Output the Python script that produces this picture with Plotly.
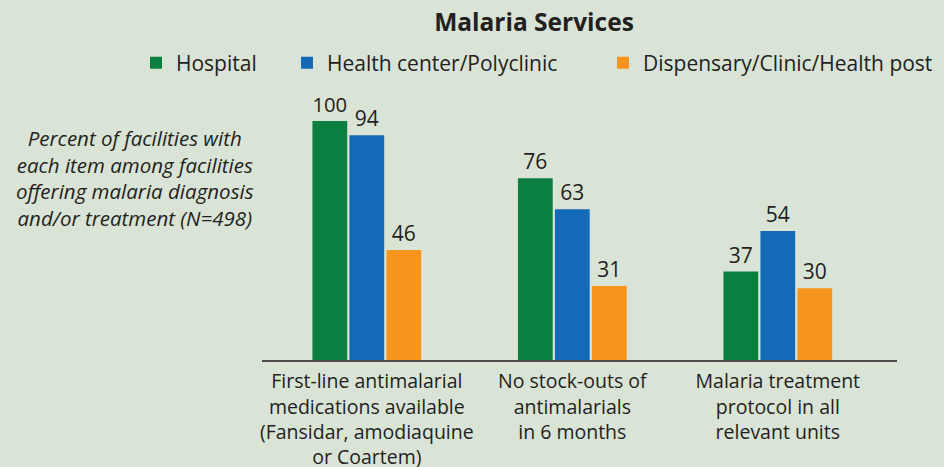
import plotly.graph_objects as go

categories = [
    "First-line antimalarial<br>medications available<br>(Fansidar, amodiaquine<br>or Coartem)",
    "No stock-outs of<br>antimalarials<br>in 6 months",
    "Malaria treatment<br>protocol in all<br>relevant units",
]
series_names = ["Hospital", "Health center/Polyclinic", "Dispensary/Clinic/Health post"]
hospital = [100, 76, 37]
health_center = [94, 63, 54]
dispensary = [46, 31, 30]
colors = ["#0b7f40", "#136ab6", "#f7941e"]
legend_ids = ["legend", "legend2", "legend3"]
legend_left_px = [136, 287, 603]

FONT = "Open Sans"
TXT = "#231f20"
L, R, T, B = 262, 47, 97, 107
PH = 467 - T - B
PW = 944 - L - R

fig = go.Figure()
for name, vals, col, lg in zip(series_names, [hospital, health_center, dispensary], colors, legend_ids):
    fig.add_trace(go.Bar(
        name=name, x=categories, y=vals, marker=dict(color=col, line=dict(width=0)),
        text=[str(v) for v in vals], textposition="outside", cliponaxis=False,
        textfont=dict(family=FONT, size=21, color=TXT), legend=lg,
    ))

fig.update_layout(
    width=944, height=467,
    paper_bgcolor="#d9e3d6", plot_bgcolor="#d9e3d6",
    margin=dict(l=L, r=R, t=T, b=B, autoexpand=False),
    barmode="group", bargap=0.46, bargroupgap=0.06,
    font=dict(family=FONT, size=19, color=TXT),
    title=dict(text="<b>Malaria Services</b>", x=534 / 944, xanchor="center",
               y=1 - 22 / 467, yanchor="middle",
               font=dict(family=FONT, size=24.5, color=TXT)),
    showlegend=True,
)
for lg, px in zip(legend_ids, legend_left_px):
    fig.update_layout({lg: dict(orientation="h", xref="paper", yref="paper",
                                x=(px - L) / PW, xanchor="left",
                                y=(360 - 63) / PH, yanchor="middle",
                                font=dict(family=FONT, size=21, color=TXT),
                                bgcolor="rgba(0,0,0,0)", itemwidth=30)})

fig.update_xaxes(range=[-0.51, 2.58], showline=True, linecolor="#4d4d4d", linewidth=1.5,
                 showgrid=False, ticks="", ticklabelstandoff=3,
                 tickfont=dict(family=FONT, size=19.5, color=TXT), fixedrange=True)
fig.update_yaxes(range=[0, 110], visible=False, showgrid=False, zeroline=False, fixedrange=True)

fig.add_annotation(
    text="<i>Percent of facilities with<br>each item among facilities<br>offering malaria diagnosis<br>and/or treatment (N=498)</i>",
    xref="paper", yref="paper", x=(135 - L) / PW, y=(360 - 177.5) / PH, xanchor="center", yanchor="middle",
    align="center", showarrow=False, font=dict(family=FONT, size=20.5, color=TXT),
)

fig.write_html("out.html", config={"displayModeBar": False},
               post_script="document.body.style.margin='0px';document.body.style.padding='0px';")
